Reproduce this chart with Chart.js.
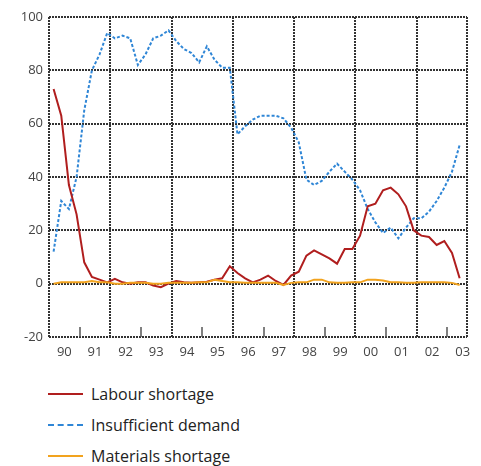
<!DOCTYPE html>
<html>
<head>
<meta charset="utf-8">
<script src="https://cdn.jsdelivr.net/npm/chart.js@4/dist/chart.umd.min.js"></script>
<style>
  html, body { margin: 0; padding: 0; background: #fff; }
  #wrap { position: relative; width: 481px; height: 370px; }
  #legend { position: absolute; left: 48px; top: 378px; font-family: "Open Sans", sans-serif; font-size: 16px; color: #222; }
  .item { display: flex; align-items: center; height: 31px; }
  .swatch { width: 35px; height: 0; margin-right: 8px; border-top-width: 2px; border-top-style: solid; }
</style>
</head>
<body>
<div id="wrap"><canvas id="c" width="481" height="370"></canvas></div>
<div id="legend"></div>
<script>
// Quarterly observations, 1990Q1 .. 2003Q2
const startYear = 1990.15;
const yearLabels = ["90","91","92","93","94","95","96","97","98","99","00","01","02","03"];
const labourShortage = [73,63,37,26,8,2.5,1.5,0.5,1.8,0.5,0,0.5,0.5,-0.7,-1.3,0,1,0.5,0.3,0.5,0.7,1.5,2,6.5,4,2,0.5,1.5,3,1,-0.5,3,4.5,10.5,12.5,11,9.5,7.5,13,13,18,29,30,35,36,33.5,29,20,18,17.5,14.5,16,11.5,2];
const insufficientDemand = [12,31,28,40,65,80,86,94,92,93,92,82,86,92,93,95,91,88,86.5,83,89,84,81,81,56,59,61.5,63,63,63,62,58.5,53,39,37,38.5,42,45,42,39,35,28,23,19,21,17,21,24.5,24.5,27,31,36,42,52];
const materialsShortage = [0,0.5,0.5,0.5,0.5,1,0.5,0.5,0,0,0.3,0.3,0.3,0,0,0.3,0.3,0.3,0.3,0.5,0.5,1.5,1,0.5,0.5,0.3,0.3,0.3,0.3,0.3,-0.5,0.3,0.5,0.5,1.5,1.5,0.5,0.3,0.3,0.5,0.5,1.5,1.5,1.2,0.5,0.5,0.3,0.3,0.5,0.5,0.5,0.5,0.3,-0.5];
const yTicks = [-20,0,20,40,60,80,100];

const seriesNames = ["Labour shortage","Insufficient demand","Materials shortage"];
const seriesColors = ["#b01e1e","#2f86d6","#f2a31e"];

function toXY(arr){ return arr.map((v,i)=>({x: startYear + 0.25*i, y: v})); }

const xMin = 1990, xMax = 2003.64;

const innerTicks = {
  id: 'innerTicks',
  beforeDatasetsDraw(chart){
    const ctx = chart.ctx, xs = chart.scales.x, area = chart.chartArea;
    ctx.save();
    ctx.strokeStyle = '#555';
    ctx.lineWidth = 1.5;
    for (let yr = 1991; yr <= 2003; yr += 2){
      const px = Math.round(xs.getPixelForValue(yr));
      ctx.beginPath();
      ctx.moveTo(px, area.bottom);
      ctx.lineTo(px, area.bottom - 10);
      ctx.stroke();
    }
    ctx.restore();
  }
};

new Chart(document.getElementById('c'), {
  type: 'line',
  data: {
    datasets: [
      {label: seriesNames[0], data: toXY(labourShortage), borderColor: seriesColors[0], borderWidth: 2, pointRadius: 0, tension: 0, order: 1},
      {label: seriesNames[1], data: toXY(insufficientDemand), borderColor: seriesColors[1], borderWidth: 2, borderDash: [3,2], pointRadius: 0, tension: 0, order: 2},
      {label: seriesNames[2], data: toXY(materialsShortage), borderColor: seriesColors[2], borderWidth: 2, pointRadius: 0, tension: 0, order: 0}
    ]
  },
  options: {
    responsive: false,
    animation: false,
    layout: { padding: { top: 17, right: 14, left: 0, bottom: 0 } },
    plugins: { legend: { display: false }, tooltip: { enabled: false } },
    scales: {
      x: {
        type: 'linear', min: xMin, max: xMax,
        afterBuildTicks(scale){
          const t = [];
          for (let v = 1990; v <= 2003.5; v += 0.5) t.push({value: v});
          t.push({value: xMax});
          scale.ticks = t;
        },
        afterFit(scale){ scale.height = 33; },
        ticks: {
          autoSkip: false, maxRotation: 0, padding: 7,
          color: '#444', font: { family: 'Open Sans', size: 13 },
          callback(v){
            const f = v - Math.floor(v);
            if (Math.abs(f - 0.5) < 0.01) return yearLabels[Math.floor(v) - 1990];
            return '';
          }
        },
        grid: {
          drawTicks: false, lineWidth: 2,
          color(ctx){
            const v = ctx.tick ? ctx.tick.value : null;
            if (v === null) return 'transparent';
            if (v === xMax) return '#333';
            if (Number.isInteger(v) && v % 2 === 0) return '#333';
            return 'transparent';
          }
        },
        border: { display: false, dash: [2,1] }
      },
      y: {
        min: -20, max: 100,
        afterBuildTicks(scale){ scale.ticks = yTicks.map(v=>({value:v})); },
        afterFit(scale){ scale.width = 49; },
        ticks: { padding: 6, color: '#444', font: { family: 'Open Sans', size: 13 } },
        grid: { drawTicks: false, lineWidth: 2, color: '#333' },
        border: { display: false, dash: [2,1] }
      }
    }
  },
  plugins: [innerTicks]
});

const lg = document.getElementById('legend');
seriesNames.forEach((n,i)=>{
  const d = document.createElement('div'); d.className = 'item';
  const s = document.createElement('span'); s.className = 'swatch';
  s.style.borderTopColor = seriesColors[i];
  if (i === 1) s.style.borderTopStyle = 'dashed';
  const t = document.createElement('span'); t.textContent = n;
  d.appendChild(s); d.appendChild(t); lg.appendChild(d);
});
</script>
</body>
</html>
